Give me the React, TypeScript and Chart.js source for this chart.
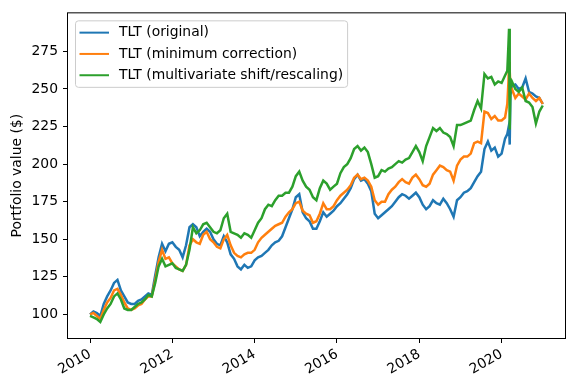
import React, { useEffect, useRef } from "react";
import { Chart, registerables } from "chart.js";

Chart.register(...registerables);

const FONT = '"DejaVu Sans", "Liberation Sans", sans-serif';
const FONT_SIZE = 13.9;

const seriesLabels = [
  "TLT (original)",
  "TLT (minimum correction)",
  "TLT (multivariate shift/rescaling)",
];
const seriesColors = ["#1f77b4", "#ff7f0e", "#2ca02c"];

const yTickValues = [100, 125, 150, 175, 200, 225, 250, 275];
const xTickYears = [2010, 2012, 2014, 2016, 2018, 2020];

// Month-start samples, Jan 2010 .. Jan 2021
const monthlyDates: string[] = [];
for (let y = 2010; y <= 2020; y++) {
  for (let m = 1; m <= 12; m++) monthlyDates.push(`${y}-${String(m).padStart(2, "0")}-01`);
}
monthlyDates.push("2021-01-01");

const originalMonthly = [
  100, 102, 101, 99, 107, 112, 116, 121, 123, 116, 112, 108,
  107, 107, 109, 110, 112, 114, 113, 126, 138, 147, 142, 147,
  148, 145, 143, 138, 146, 158, 160, 158, 152, 155, 157, 155,
  150, 147, 146, 152, 148, 140, 137, 132, 130, 133, 131, 132,
  136, 138, 139, 141, 143, 146, 148, 149, 152, 158, 164, 170,
  178, 180, 168, 164, 162, 157, 157, 162, 168, 165, 167, 169,
  172, 174, 177, 180, 184, 190, 193, 189, 190, 187, 182, 167,
  164, 166, 168, 170, 172, 175, 178, 180, 179, 177, 179, 181,
  178, 173, 170, 172, 176, 174, 173, 177, 174, 170, 165, 176,
  178, 181, 182, 184, 188, 192, 195, 210, 215, 209, 211, 205,
  207, 217, 224, 252, 253, 250, 251, 257, 248, 247, 245, 244,
  240,
];

const minCorrectionMonthly = [
  100, 101, 99, 97, 103, 108, 111, 116, 117, 113, 108, 104,
  103, 104, 106, 107, 110, 112, 112, 123, 135, 143, 137, 138,
  134, 132, 130, 129, 133, 146, 150, 148, 147, 153, 155, 150,
  148, 145, 144, 150, 153, 146, 141, 139, 138, 140, 141, 141,
  143, 148, 151, 153, 155, 157, 159, 160, 161, 165, 168, 170,
  174, 175, 169, 167, 166, 161, 162, 167, 174, 170, 170, 172,
  176, 179, 181, 183, 186, 191, 193, 190, 191, 189, 185, 176,
  173, 175, 175, 180, 183, 185, 188, 190, 188, 187, 191, 193,
  190, 186, 185, 187, 193, 196, 199, 198, 196, 195, 189, 199,
  203, 205, 205, 207, 214, 215, 214, 235, 234, 230, 232, 229,
  229, 231, 255, 250, 244, 247, 245, 243, 247, 244, 242, 244,
  240,
];

const multivariateMonthly = [
  99, 98, 97, 95, 100, 104, 107, 112, 114, 110, 104, 103,
  103, 105, 107, 108, 110, 113, 112, 121, 132, 137, 132, 133,
  134, 131, 130, 129, 133, 143, 158, 154, 156, 160, 161, 158,
  155, 154, 156, 164, 167, 155, 154, 153, 151, 154, 153, 151,
  156, 161, 164, 170, 173, 172, 176, 179, 179, 181, 181, 185,
  192, 195, 189, 185, 183, 178, 176, 184, 189, 187, 183, 185,
  187, 194, 198, 200, 204, 210, 212, 209, 211, 208, 200, 191,
  192, 196, 195, 197, 198, 200, 202, 201, 203, 204, 208, 212,
  208, 202, 212, 218, 224, 222, 224, 221, 220, 218, 212, 226,
  226, 227, 228, 229, 236, 242, 237, 260, 257, 258, 253, 255,
  254, 259, 280, 255, 250, 248, 251, 242, 241, 238, 227, 235,
  239,
];

// Extra samples around the March 2020 swing
const crashDates = ["2020-02-21", "2020-03-06", "2020-03-12", "2020-03-18"];
const originalCrash = [220, 226, 213, 246];
const minCorrectionCrash = [240, 268, 262, 252];
const multivariateCrash = [262, 290, 223, 250];

function toYear(s: string): number {
  const [y, m, d] = s.split("-").map(Number);
  return y + (m - 1) / 12 + (d - 1) / 365;
}

function buildPoints(monthly: number[], crash: number[]) {
  const pts = monthlyDates.map((d, i) => ({ x: toYear(d), y: monthly[i] }));
  crashDates.forEach((d, i) => pts.push({ x: toYear(d), y: crash[i] }));
  pts.sort((a, b) => a.x - b.x);
  return pts;
}

const framePlugin = {
  id: "frameAndLegend",
  afterDatasetsDraw(chart: any) {
    const { ctx, chartArea } = chart;
    const { left, top, right, bottom } = chartArea;
    ctx.save();
    ctx.strokeStyle = "#000";
    ctx.lineWidth = 1;
    ctx.strokeRect(left - 0.5, top - 0.5, right - left + 1, bottom - top + 1);
    ctx.restore();
  },
  afterDraw(chart: any) {
    const { ctx, chartArea } = chart;
    const { left, top } = chartArea;
    ctx.save();
    ctx.font = `${FONT_SIZE}px ${FONT}`;
    const textW = Math.max(...seriesLabels.map((l) => ctx.measureText(l).width));
    const bx = left + 7.5;
    const by = top + 7.5;
    const textX = bx + 43.5;
    const bw = textX - bx + textW + 4.5;
    const bh = 66.5;
    const r = 3;
    ctx.beginPath();
    ctx.moveTo(bx + r, by);
    ctx.lineTo(bx + bw - r, by);
    ctx.quadraticCurveTo(bx + bw, by, bx + bw, by + r);
    ctx.lineTo(bx + bw, by + bh - r);
    ctx.quadraticCurveTo(bx + bw, by + bh, bx + bw - r, by + bh);
    ctx.lineTo(bx + r, by + bh);
    ctx.quadraticCurveTo(bx, by + bh, bx, by + bh - r);
    ctx.lineTo(bx, by + r);
    ctx.quadraticCurveTo(bx, by, bx + r, by);
    ctx.closePath();
    ctx.fillStyle = "rgba(255,255,255,0.8)";
    ctx.fill();
    ctx.strokeStyle = "#cccccc";
    ctx.lineWidth = 1;
    ctx.stroke();
    const rows = [by + 11.8, by + 33.1, by + 54.4];
    seriesLabels.forEach((label, i) => {
      ctx.strokeStyle = seriesColors[i];
      ctx.lineWidth = 2;
      ctx.beginPath();
      ctx.moveTo(bx + 4, rows[i]);
      ctx.lineTo(bx + 33.5, rows[i]);
      ctx.stroke();
      ctx.fillStyle = "#000";
      ctx.textBaseline = "middle";
      ctx.textAlign = "left";
      ctx.fillText(label, textX, rows[i]);
    });
    ctx.restore();
  },
};

export default function App() {
  const canvasRef = useRef<HTMLCanvasElement | null>(null);

  useEffect(() => {
    document.body.style.margin = "0";
    const canvas = canvasRef.current;
    if (!canvas) return;
    const datasets = [
      { data: buildPoints(originalMonthly, originalCrash), order: 3 },
      { data: buildPoints(minCorrectionMonthly, minCorrectionCrash), order: 2 },
      { data: buildPoints(multivariateMonthly, multivariateCrash), order: 1 },
    ].map((d, i) => ({
      label: seriesLabels[i],
      data: d.data,
      order: d.order,
      borderColor: seriesColors[i],
      backgroundColor: seriesColors[i],
      borderWidth: 2.5,
      pointRadius: 0,
      tension: 0,
      fill: false,
    }));

    const chart = new Chart(canvas, {
      type: "line",
      data: { datasets },
      options: {
        animation: false,
        responsive: false,
        devicePixelRatio: 1,
        parsing: false as any,
        layout: { padding: { top: 11, right: 12, left: 0, bottom: 0 } },
        plugins: { legend: { display: false }, tooltip: { enabled: false } },
        scales: {
          x: {
            type: "linear",
            min: 2009.465,
            max: 2021.54,
            afterBuildTicks: (s: any) => {
              s.ticks = xTickYears.map((v) => ({ value: v }));
            },
            afterFit: (s: any) => {
              s.height = 52;
            },
            ticks: {
              autoSkip: false,
              minRotation: 30,
              maxRotation: 30,
              color: "#000",
              padding: 3,
              font: { family: FONT, size: FONT_SIZE },
              callback: (v: any) => String(v),
            },
            grid: { drawOnChartArea: false, drawTicks: true, tickLength: 5, color: "#000" },
            border: { display: false },
          },
          y: {
            type: "linear",
            min: 84.35,
            max: 300.3,
            afterBuildTicks: (s: any) => {
              s.ticks = yTickValues.map((v) => ({ value: v }));
            },
            afterFit: (s: any) => {
              s.width = 68;
            },
            ticks: {
              autoSkip: false,
              color: "#000",
              padding: 5,
              font: { family: FONT, size: FONT_SIZE },
              callback: (v: any) => String(v),
            },
            grid: { drawOnChartArea: false, drawTicks: true, tickLength: 5, color: "#000" },
            border: { display: false },
            title: {
              display: true,
              text: "Portfolio value ($)",
              color: "#000",
              font: { family: FONT, size: FONT_SIZE },
              padding: { top: 9, bottom: 0 },
            },
          },
        },
      },
      plugins: [framePlugin],
    });
    return () => chart.destroy();
  }, []);

  return (
    <div style={{ width: 577, height: 390, background: "#fff" }}>
      <canvas ref={canvasRef} width={577} height={390} style={{ width: 577, height: 390, display: "block" }} />
    </div>
  );
}
